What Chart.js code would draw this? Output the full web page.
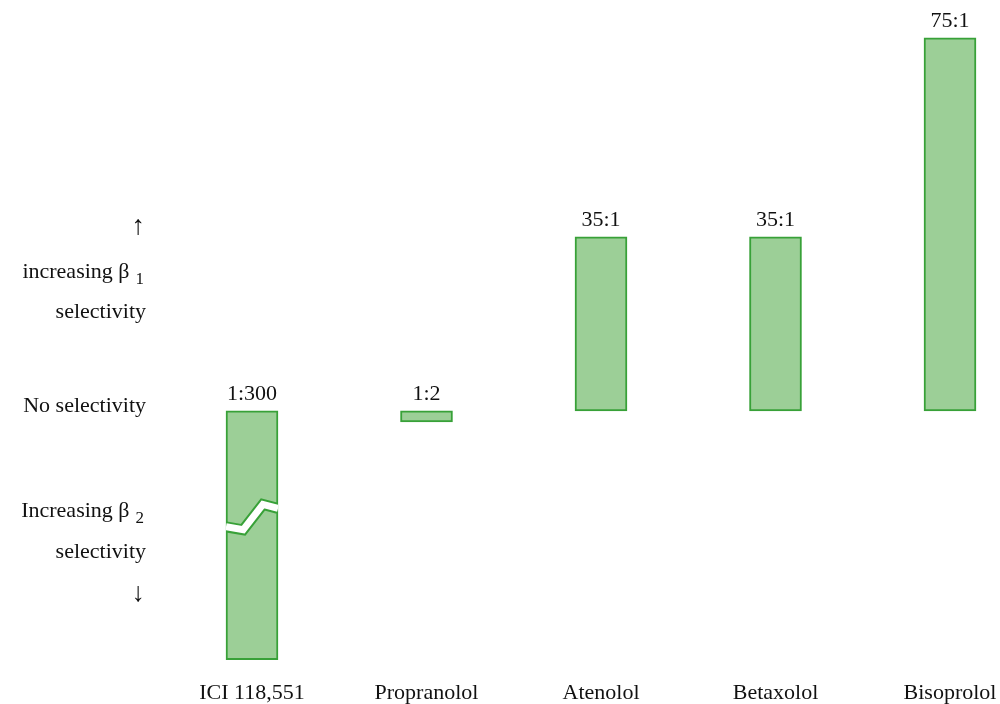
<!DOCTYPE html>
<html>
<head>
<meta charset="utf-8">
<script src="https://cdn.jsdelivr.net/npm/chart.js@4"></script>
<style>
  html, body { margin: 0; padding: 0; background: #fff; }
</style>
</head>
<body>
<canvas id="chart" width="1000" height="704"></canvas>
<script>
const drugs = ['ICI 118,551', 'Propranolol', 'Atenolol', 'Betaxolol', 'Bisoprolol'];
const ratioLabels = ['1:300', '1:2', '35:1', '35:1', '75:1'];
// signed selectivity as drawn (the ICI bar is cut short, hence the break)
const barValues = [-50, -2.2, 35, 35, 75];
const brokenBars = [true, false, false, false, false];

// side annotations, placed on the value axis
const noteValues = [35.6, 26.7, 18.7, -0.2, -21.3, -29.6, -38.2];
const noteTexts = ['↑', 'increasing β', 'selectivity', 'No selectivity', 'Increasing β', 'selectivity', '↓'];
const noteSubs = ['', '1', '', '', '2', '', ''];

const FONT = '"Liberation Serif", "Times New Roman", serif';
const fillColor = '#9ccf97';
const borderColor = '#38a138';
const textColor = '#111';

const breakPlugin = {
    id: 'barBreak',
    afterDatasetsDraw(chart) {
        const ctx = chart.ctx;
        const meta = chart.getDatasetMeta(0);
        // break line shape, as fractions of the bar box
        const pts = [[0, 0.466], [0.33, 0.478], [0.71, 0.376], [1, 0.392]];
        meta.data.forEach((bar, i) => {
            if (!brokenBars[i]) return;
            const p = bar.getProps(['x', 'y', 'base', 'width'], true);
            const left = p.x - p.width / 2;
            const top = Math.min(p.y, p.base);
            const h = Math.abs(p.base - p.y);
            const path = () => {
                ctx.beginPath();
                pts.forEach(([fx, fy], k) => {
                    const px = left + fx * p.width, py = top + fy * h;
                    if (k) ctx.lineTo(px, py); else ctx.moveTo(px, py);
                });
            };
            ctx.save();
            ctx.beginPath();
            ctx.rect(left, top, p.width, h);
            ctx.clip();
            ctx.lineJoin = 'miter';
            path(); ctx.strokeStyle = borderColor; ctx.lineWidth = 11; ctx.stroke();
            path(); ctx.strokeStyle = '#fff'; ctx.lineWidth = 7; ctx.stroke();
            ctx.restore();
        });
    }
};

const labelsPlugin = {
    id: 'ratioLabels',
    afterDatasetsDraw(chart) {
        const ctx = chart.ctx;
        const meta = chart.getDatasetMeta(0);
        ctx.save();
        ctx.font = '22px ' + FONT;
        ctx.fillStyle = textColor;
        ctx.textAlign = 'center';
        ctx.textBaseline = 'alphabetic';
        meta.data.forEach((bar, i) => {
            const top = Math.min(bar.y, bar.base);
            ctx.fillText(ratioLabels[i], bar.x, top - 11);
        });
        ctx.restore();
    }
};

const notesPlugin = {
    id: 'sideNotes',
    afterDraw(chart) {
        const ctx = chart.ctx;
        const yScale = chart.scales.y;
        ctx.save();
        ctx.fillStyle = textColor;
        ctx.textAlign = 'right';
        ctx.textBaseline = 'alphabetic';
        noteValues.forEach((v, i) => {
            const py = yScale.getPixelForValue(v);
            let x = 146;
            if (noteSubs[i]) {
                ctx.font = '17px ' + FONT;
                ctx.fillText(noteSubs[i], x - 2, py + 6);
                x -= ctx.measureText(noteSubs[i]).width + 8;
            }
            const isArrow = noteTexts[i] === '↑' || noteTexts[i] === '↓';
            ctx.font = (isArrow ? '27px ' : '22px ') + FONT;
            ctx.fillText(noteTexts[i], isArrow ? x - 1 : x, py);
        });
        ctx.restore();
    }
};

new Chart(document.getElementById('chart'), {
    type: 'bar',
    data: {
        labels: drugs,
        datasets: [{
            data: barValues.map(v => [0, v]),
            backgroundColor: fillColor,
            borderColor: borderColor,
            borderWidth: 2,
            borderSkipped: false,
            barThickness: 52,
            clip: false
        }]
    },
    options: {
        responsive: false,
        animation: false,
        devicePixelRatio: 1,
        layout: { padding: { left: 252, right: 50, top: 20, bottom: 0 } },
        plugins: {
            legend: { display: false },
            tooltip: { enabled: false }
        },
        scales: {
            x: {
                offset: false,
                grid: { display: false, drawTicks: false },
                border: { display: false },
                ticks: {
                    font: { family: FONT, size: 22 },
                    color: textColor,
                    padding: 0,
                    autoSkip: false,
                    maxRotation: 0
                },
                afterFit: s => { s.height = 24; }
            },
            y: {
                display: false,
                min: -54.1,
                max: 78.6
            }
        }
    },
    plugins: [breakPlugin, labelsPlugin, notesPlugin]
});
</script>
</body>
</html>
